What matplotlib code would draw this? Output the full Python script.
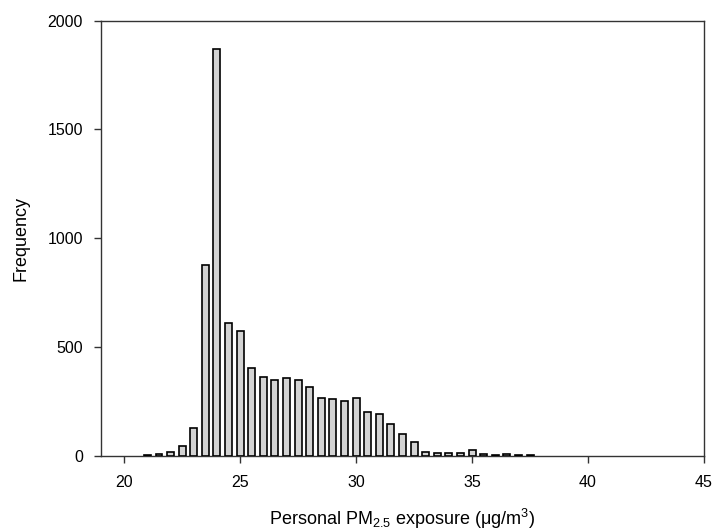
import matplotlib
matplotlib.use("Agg")
import matplotlib.pyplot as plt

plt.rcParams['font.family'] = ['Liberation Sans', 'DejaVu Sans']
plt.rcParams['mathtext.fontset'] = 'custom'
plt.rcParams['mathtext.rm'] = 'Liberation Sans'
plt.rcParams['mathtext.it'] = 'Liberation Sans'

bin_centers = [21.0, 21.5, 22.0, 22.5, 23.0, 23.5, 24.0, 24.5, 25.0, 25.5,
               26.0, 26.5, 27.0, 27.5, 28.0, 28.5, 29.0, 29.5, 30.0, 30.5,
               31.0, 31.5, 32.0, 32.5, 33.0, 33.5, 34.0, 34.5, 35.0, 35.5,
               36.0, 36.5, 37.0, 37.5]
frequency = [4, 10, 16, 46, 128, 878, 1868, 612, 573, 402,
             363, 348, 356, 347, 315, 267, 260, 250, 263, 202,
             191, 147, 98, 61, 19, 14, 11, 11, 28, 8,
             5, 8, 5, 4]
xticks = [20, 25, 30, 35, 40, 45]
yticks = [0, 500, 1000, 1500, 2000]

fig = plt.figure(figsize=(7.15, 5.31), dpi=100)
ax = fig.add_axes([101/715, 1 - 455.7/531, (704 - 101)/715, (455.7 - 20.7)/531])

ax.bar(bin_centers, frequency, width=0.3, color='#d3d3d3', edgecolor='black',
       linewidth=1.2, zorder=3)

ax.set_xlim(19, 45)
ax.set_ylim(0, 2000)
ax.set_xticks(xticks)
ax.set_yticks(yticks)
ax.tick_params(direction='out', length=5, width=1, colors='#333333',
               labelcolor='black', labelsize=11.5)
ax.tick_params(axis='x', pad=9)
ax.tick_params(axis='y', pad=8)
for s in ax.spines.values():
    s.set_color('#333333')
    s.set_linewidth(1)

ax.set_xlabel('Personal PM$_{2.5}$ exposure ($\\mu$g/m$^3$)', fontsize=13, labelpad=12)
ax.set_ylabel('Frequency', fontsize=13, labelpad=13)

fig.savefig('out.png', dpi=100)
